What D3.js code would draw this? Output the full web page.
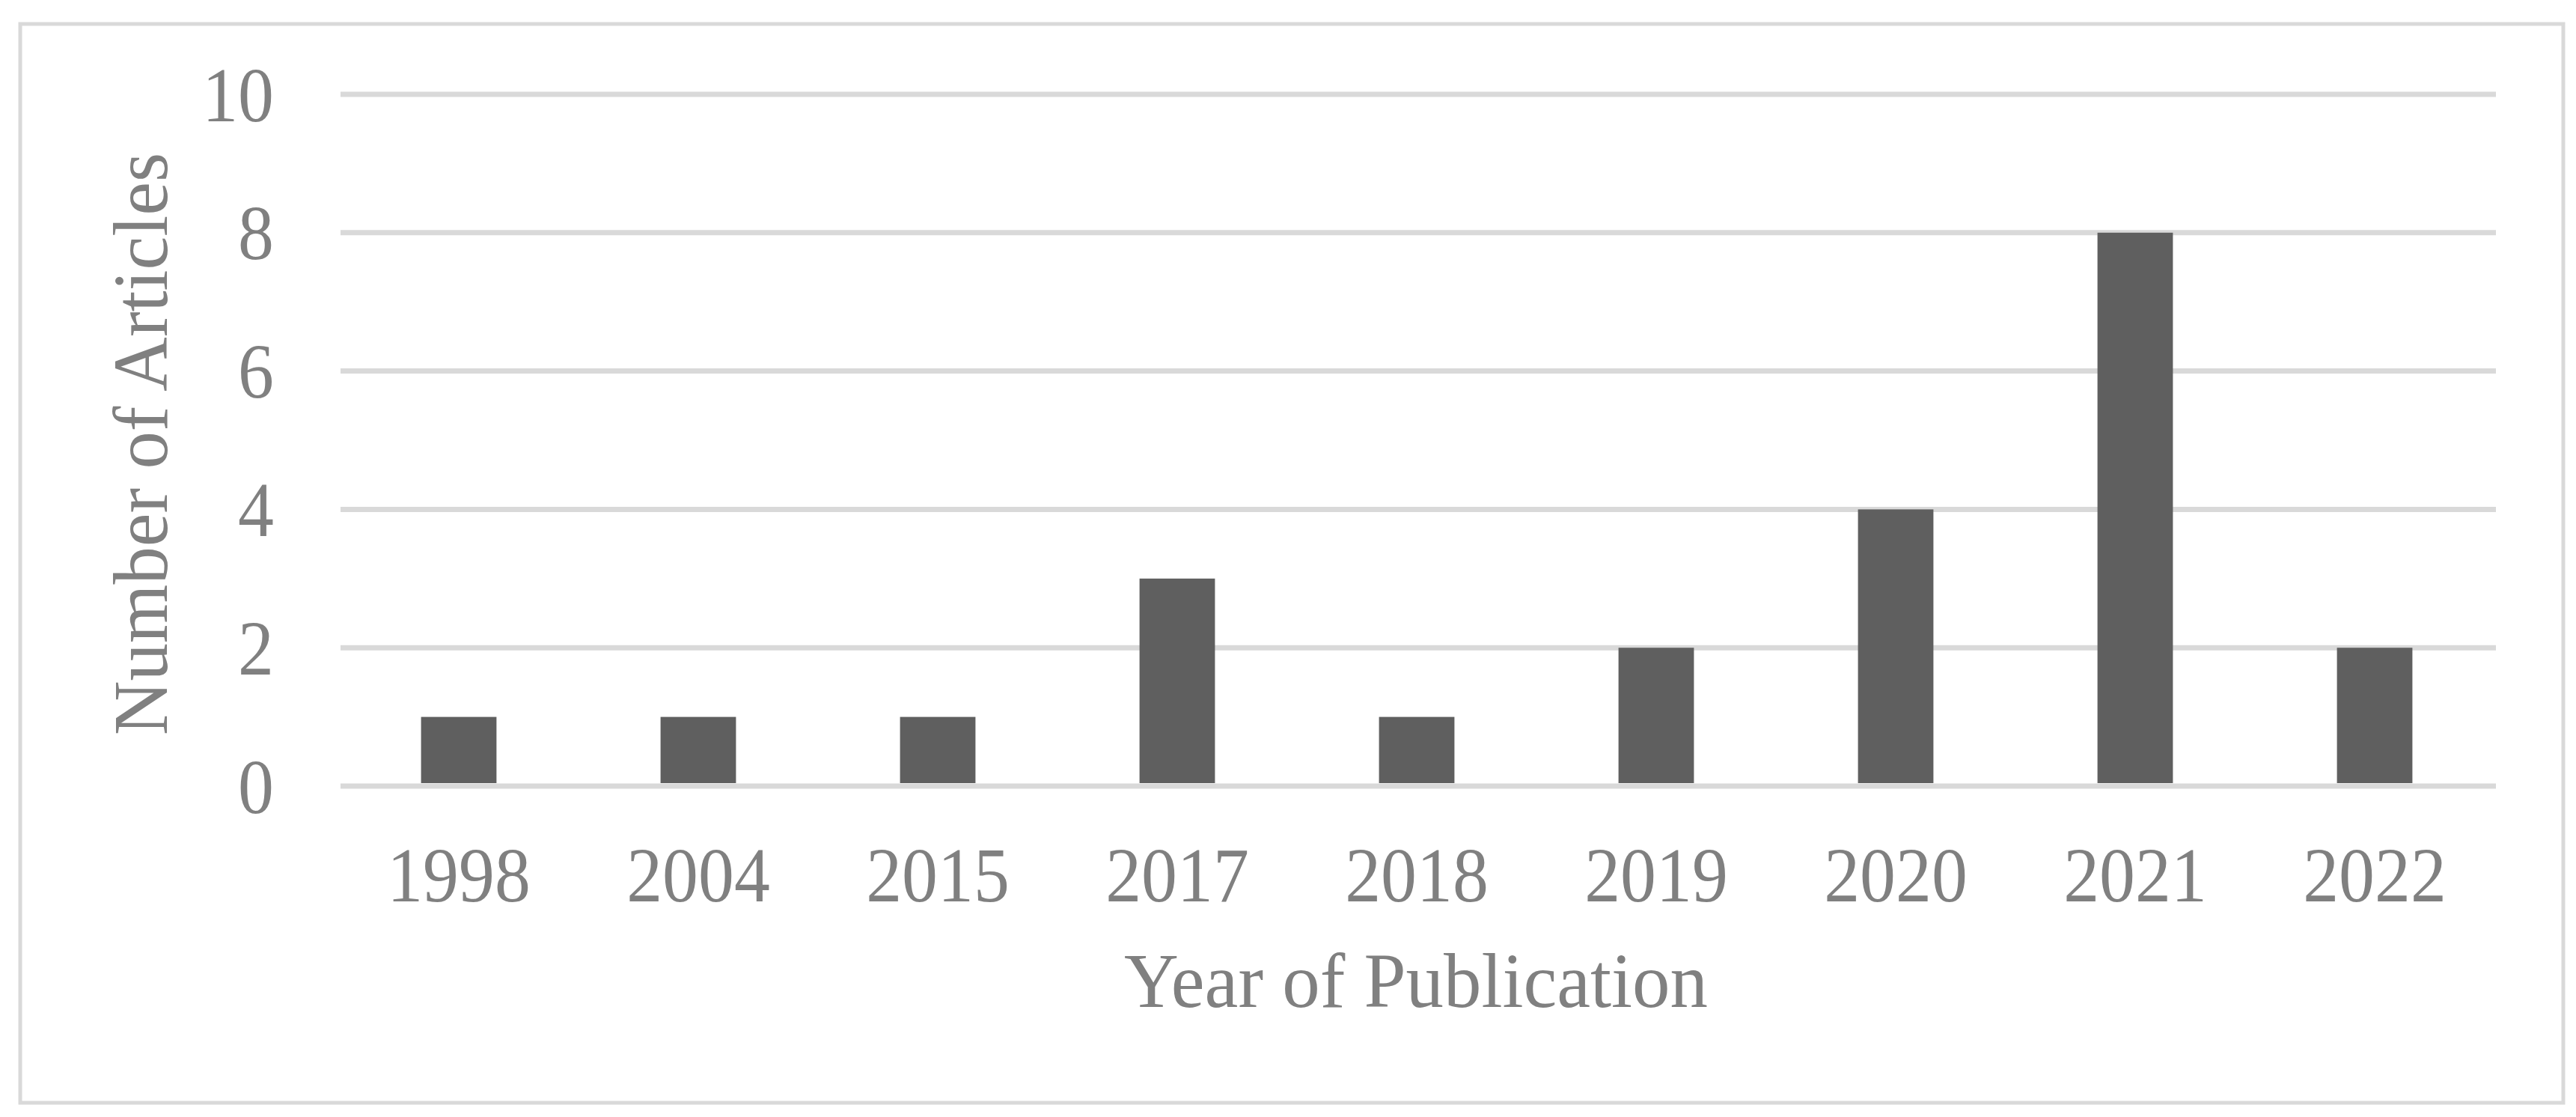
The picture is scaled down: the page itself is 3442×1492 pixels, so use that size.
<!DOCTYPE html>
<html>
<head>
<meta charset="utf-8">
<script src="https://cdn.jsdelivr.net/npm/d3@7"></script>
<style>
  html, body { margin: 0; padding: 0; background: #fff; }
  svg text { font-family: "Liberation Serif", "Times New Roman", serif; fill: #808080; }
</style>
</head>
<body>
<div id="chart"></div>
<script>
const years = ["1998", "2004", "2015", "2017", "2018", "2019", "2020", "2021", "2022"];
const articles = [1, 1, 1, 3, 1, 2, 4, 8, 2];
const yTicks = [0, 2, 4, 6, 8, 10];
const xTitle = "Year of Publication";
const yTitle = "Number of Articles";

const width = 3442;
const height = 1492;
const margin = { top: 126, right: 107, bottom: 442, left: 455 };

const svg = d3.select("#chart")
    .append("svg")
    .attr("width", width)
    .attr("height", height);

// outer frame
svg.append("rect")
    .attr("x", 27)
    .attr("y", 32)
    .attr("width", 3398)
    .attr("height", 1441)
    .attr("fill", "none")
    .attr("stroke", "#d9d9d9")
    .attr("stroke-width", 5);

const x = d3.scaleBand()
    .domain(years)
    .range([margin.left, width - margin.right])
    .paddingInner(0.685)
    .paddingOuter(0.3425);

const y = d3.scaleLinear()
    .domain([0, 10])
    .range([height - margin.bottom, margin.top]);

// gridlines
svg.append("g")
    .selectAll("line")
    .data(yTicks)
    .enter()
    .append("line")
    .attr("x1", margin.left)
    .attr("x2", width - margin.right)
    .attr("y1", d => y(d))
    .attr("y2", d => y(d))
    .attr("stroke", "#d9d9d9")
    .attr("stroke-width", 7);

// bars
svg.append("g")
    .selectAll("rect")
    .data(articles)
    .enter()
    .append("rect")
    .attr("x", (d, i) => x(years[i]) - 2)
    .attr("y", d => y(d))
    .attr("width", x.bandwidth())
    .attr("height", d => y(0) - 4 - y(d))
    .attr("fill", "#5f5f5f");

// y axis labels (Times in the original is a bit narrower)
const yAxis = d3.axisLeft(y).tickValues(yTicks).tickSize(0).tickPadding(0);
svg.append("g")
    .attr("transform", `translate(366,0)`)
    .call(yAxis)
    .call(g => g.select(".domain").remove())
    .selectAll("text")
    .attr("font-size", 103)
    .attr("dy", "0.34em")
    .attr("transform", "scale(0.93,1)");

// x axis labels
const xAxis = d3.axisBottom(x).tickSize(0).tickPadding(0);
svg.append("g")
    .attr("transform", `translate(-2,${y(0)})`)
    .call(xAxis)
    .call(g => g.select(".domain").remove())
    .selectAll("text")
    .attr("font-size", 103)
    .attr("dy", null)
    .attr("y", 154)
    .attr("transform", "scale(0.93,1)");

// axis titles
const cx = (margin.left + width - margin.right) / 2 - 3;
svg.append("text")
    .attr("transform", `translate(${cx},1345) scale(0.97,1)`)
    .attr("text-anchor", "middle")
    .attr("font-size", 104)
    .text(xTitle);

svg.append("text")
    .attr("transform", `translate(223,${(y(0) + y(10)) / 2 + 5}) rotate(-90) scale(0.97,1)`)
    .attr("text-anchor", "middle")
    .attr("font-size", 104)
    .text(yTitle);
</script>
</body>
</html>
